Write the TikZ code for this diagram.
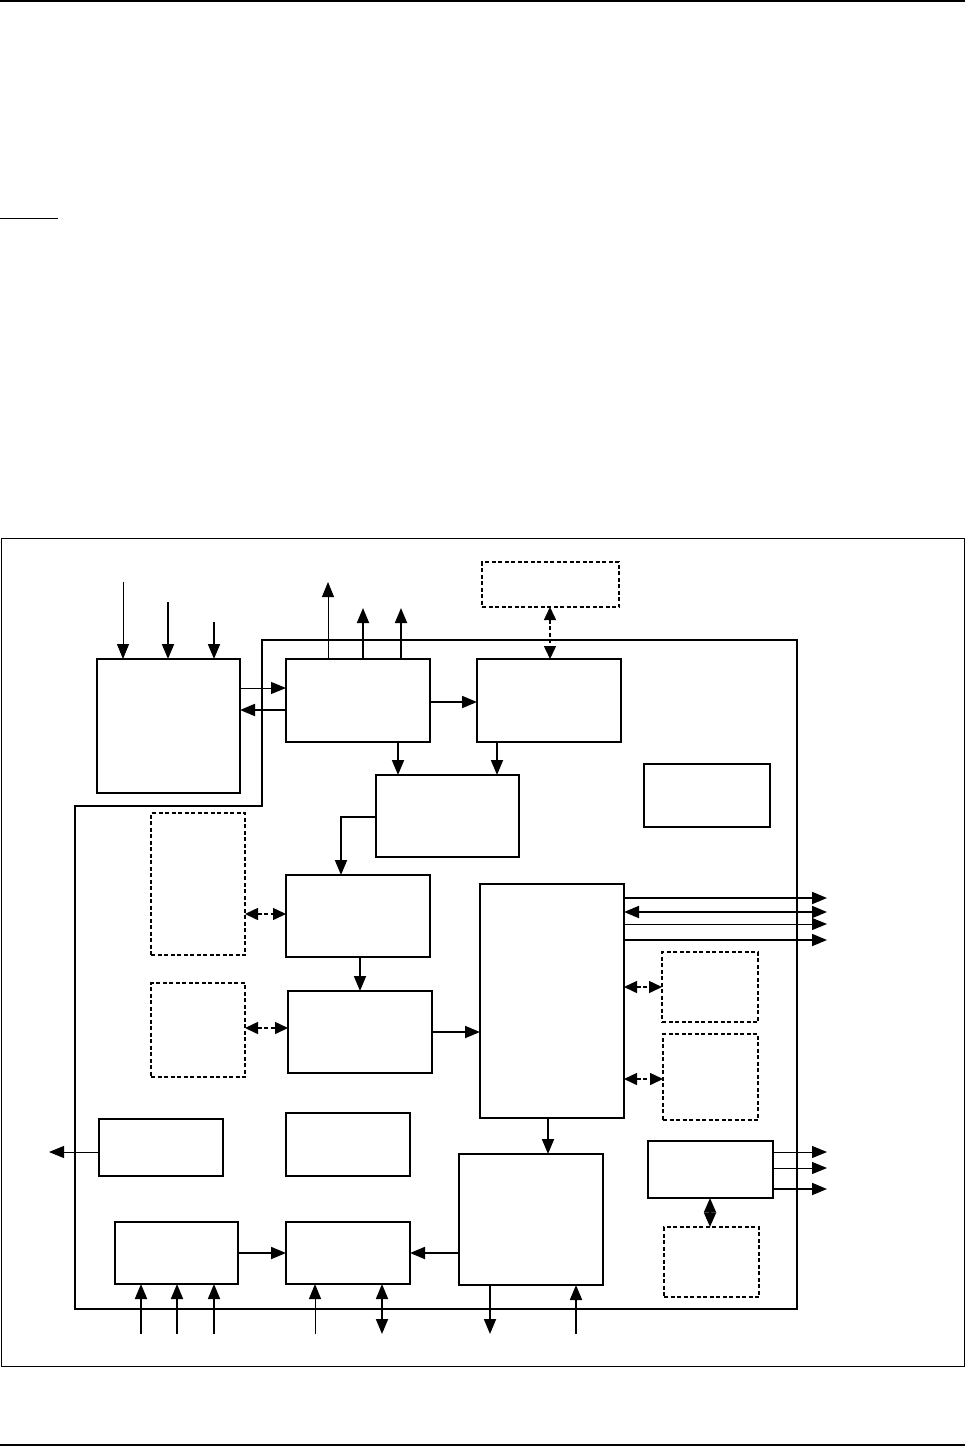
\documentclass[tikz,border=0pt]{standalone}
\usepackage{tikz}
\usetikzlibrary{arrows.meta}

\tikzset{
    blk/.style={rectangle, draw, line width=1.8pt, inner sep=0pt, outer sep=0pt},
    dblk/.style={rectangle, draw, line width=1.2pt, dash pattern=on 4pt off 2.5pt, inner sep=0pt, outer sep=0pt},
    arr/.style={-{Triangle[length=15pt,width=12pt]}, line width=1pt},
    arrb/.style={arr, line width=1.8pt},
    biarr/.style={{Triangle[length=15pt,width=12pt]}-{Triangle[length=15pt,width=12pt]}, line width=1.8pt},
    dbiarr/.style={{Triangle[length=13pt,width=12pt]}-{Triangle[length=13pt,width=12pt]}, line width=1.5pt, dash pattern=on 4pt off 2.5pt},
}

\begin{document}
\begin{tikzpicture}[x=1pt,y=-1pt]
            \useasboundingbox (0,0) rectangle (965,1447);
            % page rules and frame
            \draw[line width=2pt] (0,1) -- (965,1);
            \draw[line width=1pt] (0,219) -- (58,219);
            \draw[line width=2pt] (0,1445) -- (965,1445);
            \draw[line width=1pt] (1,538) rectangle (964,1366);
            % chip outline
            \draw[line width=1.8pt] (75,806) -- (262,806) -- (262,640) -- (797,640) -- (797,1309) -- (75,1309) -- cycle;
            % blocks
            \draw (168.5,726)  node[blk, minimum width=143, minimum height=134] (ext) {};
            \draw (358,700.5)  node[blk, minimum width=144, minimum height=83] (top1) {};
            \draw (549,700.5)  node[blk, minimum width=144, minimum height=83] (top2) {};
            \draw (550.5,584.5)  node[dblk, minimum width=137, minimum height=45] (dtop) {};
            \draw (447.5,816)  node[blk, minimum width=143, minimum height=82] (mid) {};
            \draw (707,795.5)  node[blk, minimum width=126, minimum height=63] (lone) {};
            \draw (358,916)  node[blk, minimum width=144, minimum height=82] (row1) {};
            \draw (198,884)  node[dblk, minimum width=94, minimum height=142] (dl1) {};
            \draw (360,1032)  node[blk, minimum width=144, minimum height=82] (row2) {};
            \draw (198,1030)  node[dblk, minimum width=94, minimum height=94] (dl2) {};
            \draw (552,1001)  node[blk, minimum width=144, minimum height=234] (tall) {};
            \draw (710,987)  node[dblk, minimum width=96, minimum height=70] (dr1) {};
            \draw (710.5,1077)  node[dblk, minimum width=95, minimum height=86] (dr2) {};
            \draw (531,1219.5)  node[blk, minimum width=144, minimum height=131] (low) {};
            \draw (161,1147.5)  node[blk, minimum width=124, minimum height=57] (outl) {};
            \draw (348,1144.5)  node[blk, minimum width=124, minimum height=63] (spare) {};
            \draw (176.5,1253)  node[blk, minimum width=123, minimum height=62] (inq) {};
            \draw (348,1253)  node[blk, minimum width=124, minimum height=62] (inr) {};
            \draw (710.5,1169.5)  node[blk, minimum width=125, minimum height=57] (outs) {};
            \draw (711.5,1262)  node[dblk, minimum width=95, minimum height=70] (dr3) {};
            % free ends
            \coordinate (rpin) at (827,0);
            \coordinate (lpin) at (49,0);
            \coordinate (bpin) at (0,1334);
            % inputs into ext, outputs of top1
            \draw[arr] ([xshift=26pt,yshift=77pt]ext.north west) -- ([xshift=26pt]ext.north west);
            \foreach \dx/\len in {71/57,117/37}{
            \draw[arrb] ([xshift=\dx pt,yshift=\len pt]ext.north west) -- ([xshift=\dx pt]ext.north west);
            }
            \draw[arr] ([xshift=42pt]top1.north west) -- ([xshift=42pt,yshift=77pt]top1.north west);
            \foreach \dx in {77,115}{
            \draw[arrb] ([xshift=\dx pt]top1.north west) -- ([xshift=\dx pt,yshift=51pt]top1.north west);
            }
            \draw[arr] (ext.east |- 0,688) -- (top1.west |- 0,688);
            \draw[arrb] (top1.west |- 0,710) -- (ext.east |- 0,710);
            \draw[arrb] (top1.east |- 0,702) -- (top2.west |- 0,702);
            \draw[dbiarr] (dtop.south -| 550,0) -- (top2.north -| 550,0);
            \draw[arrb] (top1.south -| 398,0) -- (mid.north -| 398,0);
            \draw[arrb] (top2.south -| 497,0) -- (mid.north -| 497,0);
            \draw[arrb] (mid.west |- 0,817) -| (row1.north -| 341,0);
            \draw[dbiarr] (dl1.east |- 0,914) -- (row1.west |- 0,914);
            \draw[arrb] (row1.south -| 360,0) -- (row2.north -| 360,0);
            \draw[dbiarr] (dl2.east |- 0,1028) -- (row2.west |- 0,1028);
            \draw[arrb] (row2.east |- 0,1032) -- (tall.west |- 0,1032);
            % lines on the right of tall
            \draw[arrb] (tall.east |- 0,898) -- (rpin |- 0,898);
            \draw[biarr] (tall.east |- 0,912) -- (rpin |- 0,912);
            \draw[arr] (tall.east |- 0,924) -- (rpin |- 0,924);
            \draw[arrb] (tall.east |- 0,940) -- (rpin |- 0,940);
            \draw[dbiarr] (tall.east |- 0,987) -- (dr1.west |- 0,987);
            \draw[dbiarr] (tall.east |- 0,1079) -- (dr2.west |- 0,1079);
            \draw[arrb] (tall.south -| 548,0) -- (low.north -| 548,0);
            % bottom row
            \draw[arr] (outl.west |- 0,1152) -- (lpin |- 0,1152);
            \draw[arrb] (inq.east |- 0,1253) -- (inr.west |- 0,1253);
            \draw[arrb] (low.west |- 0,1253) -- (inr.east |- 0,1253);
            \foreach \x in {141,177,214}{
            \draw[arrb] (bpin -| \x,0) -- (inq.south -| \x,0);
            }
            \draw[arr] (bpin -| 315,0) -- (inr.south -| 315,0);
            \draw[biarr] (inr.south -| 382,0) -- (bpin -| 382,0);
            \draw[arrb] (low.south -| 490,0) -- (bpin -| 490,0);
            \draw[arrb] (bpin -| 576,0) -- (low.south -| 576,0);
            % outs
            \draw[arr] (outs.east |- 0,1152) -- (rpin |- 0,1152);
            \draw[arr] (outs.east |- 0,1168) -- (rpin |- 0,1168);
            \draw[arrb] (outs.east |- 0,1189) -- (rpin |- 0,1189);
            \draw[{Triangle[length=14.5pt,width=12pt]}-{Triangle[length=14.5pt,width=12pt]}, line width=1.8pt] (outs.south -| 710,0) -- (dr3.north -| 710,0);
        \end{tikzpicture}
\end{document}
